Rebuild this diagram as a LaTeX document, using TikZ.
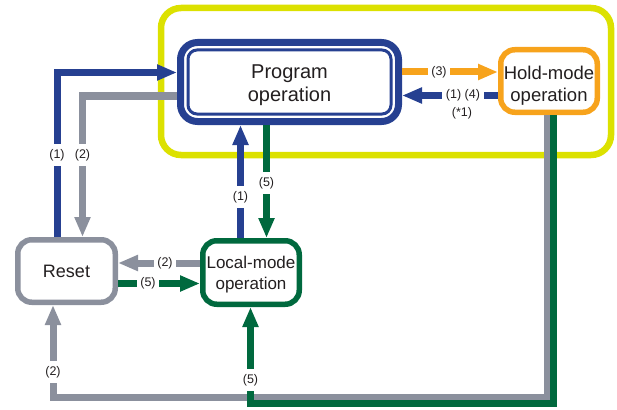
\documentclass[tikz,border=0pt]{standalone}
\usepackage{fontspec}
\setmainfont{Liberation Sans}
\usetikzlibrary{arrows.meta}
\definecolor{cblue}{HTML}{264091}
\definecolor{cgray}{HTML}{8B909D}
\definecolor{cgreen}{HTML}{00693E}
\definecolor{corange}{HTML}{F7A31C}
\definecolor{cyellow}{HTML}{DCE100}
\definecolor{ctext}{HTML}{231F20}
\begin{document}
\begin{tikzpicture}[x=1pt,y=-1pt,
 box/.style={draw, rounded corners=14pt, line width=5.5pt, fill=white, align=center, text=ctext, inner sep=0pt},
 conn/.style={line width=7pt, -{Triangle[length=20pt,width=15pt]}},
 lab/.style={fill=white, text=ctext, inner xsep=3.5pt, inner ysep=5pt, font=\fontsize{12.5}{14}\selectfont}]

\useasboundingbox (0,0) rectangle (617,409);
\draw[cyellow, line width=6.5pt, rounded corners=20pt] (161,8) rectangle (611,155);

\node[box, draw=cblue, line width=7pt, rounded corners=17pt, minimum width=218pt, minimum height=79pt, font=\fontsize{20}{23}\selectfont] (prog) at (289.5,82) {\rule{0pt}{20pt}Program\\operation};
\draw[cblue, line width=3pt, rounded corners=9pt] ([shift={(11,11)}]prog.north west) rectangle ([shift={(-11,-11)}]prog.south east);

\node[box, draw=corange, minimum width=96.5pt, minimum height=62.5pt, font=\fontsize{18.5}{22}\selectfont] (hold) at (549,81) {\rule{0pt}{23pt}Hold-mode\\operation};
\node[box, draw=cgray, minimum width=97.5pt, minimum height=62.5pt, font=\fontsize{18}{21}\selectfont] (reset) at (66.5,271) {Reset};
\node[box, draw=cgreen, minimum width=96.5pt, minimum height=63.5pt, font=\fontsize{17}{21}\selectfont] (local) at (251,272.5) {\rule{0pt}{16pt}Local-mode\\operation};

\coordinate (xa) at (57,0);
\coordinate (xb) at (82.5,0);
\coordinate (xc) at (240.5,0);
\coordinate (xd) at (266.5,0);
\coordinate (xe) at (547,0);
\coordinate (xf) at (553,0);
\coordinate (xg) at (53,0);
\coordinate (xh) at (250.5,0);
\coordinate (ya) at (0,72.5);
\coordinate (yb) at (0,96);
\coordinate (yc) at (0,72);
\coordinate (yd) at (0,95.5);
\coordinate (ye) at (0,263);
\coordinate (yf) at (0,283.5);
\coordinate (yg) at (0,397.5);
\coordinate (yh) at (0,403.5);

\draw[conn, cblue] (xa |- reset.north) |- (prog.west |- ya);
\draw[conn, cgray] (prog.west |- yb) -| (xb |- reset.north);
\draw[conn, cblue] (xc |- local.north) -- (xc |- prog.south);
\draw[conn, cgreen] (xd |- prog.south) -- (xd |- local.north);
\draw[conn, corange] (prog.east |- yc) -- (hold.west |- yc);
\draw[conn, cblue] (hold.west |- yd) -- (prog.east |- yd);
\draw[conn, cgray] (local.west |- ye) -- (reset.east |- ye);
\draw[conn, cgreen] (reset.east |- yf) -- (local.west |- yf);
\draw[conn, cgray] (xe |- hold.south) -- (xe |- yg) -- (xg |- yg) -- (xg |- reset.south);
\draw[conn, cgreen] (xf |- hold.south) -- (xf |- yh) -- (xh |- yh) -- (xh |- local.south);

\node[lab] (l1) at (57,155) {(1)};
\node[lab] (l2) at (82.5,155) {(2)};
\node[lab] (l3) at (240.5,197) {(1)};
\node[lab] (l4) at (266.5,183) {(5)};
\node[lab] (l5) at (439,72) {(3)};
\node[lab] (l6) at (463,95.5) {(1) (4)};
\node[text=ctext, inner sep=0pt, font=\fontsize{12.5}{14}\selectfont] (l7) at (462,113) {(*1)};
\node[lab] (l8) at (165,263) {(2)};
\node[lab] (l9) at (148,283.5) {(5)};
\node[lab] (l10) at (53,372) {(2)};
\node[lab] (l11) at (250.5,380) {(5)};
\end{tikzpicture}
\end{document}
